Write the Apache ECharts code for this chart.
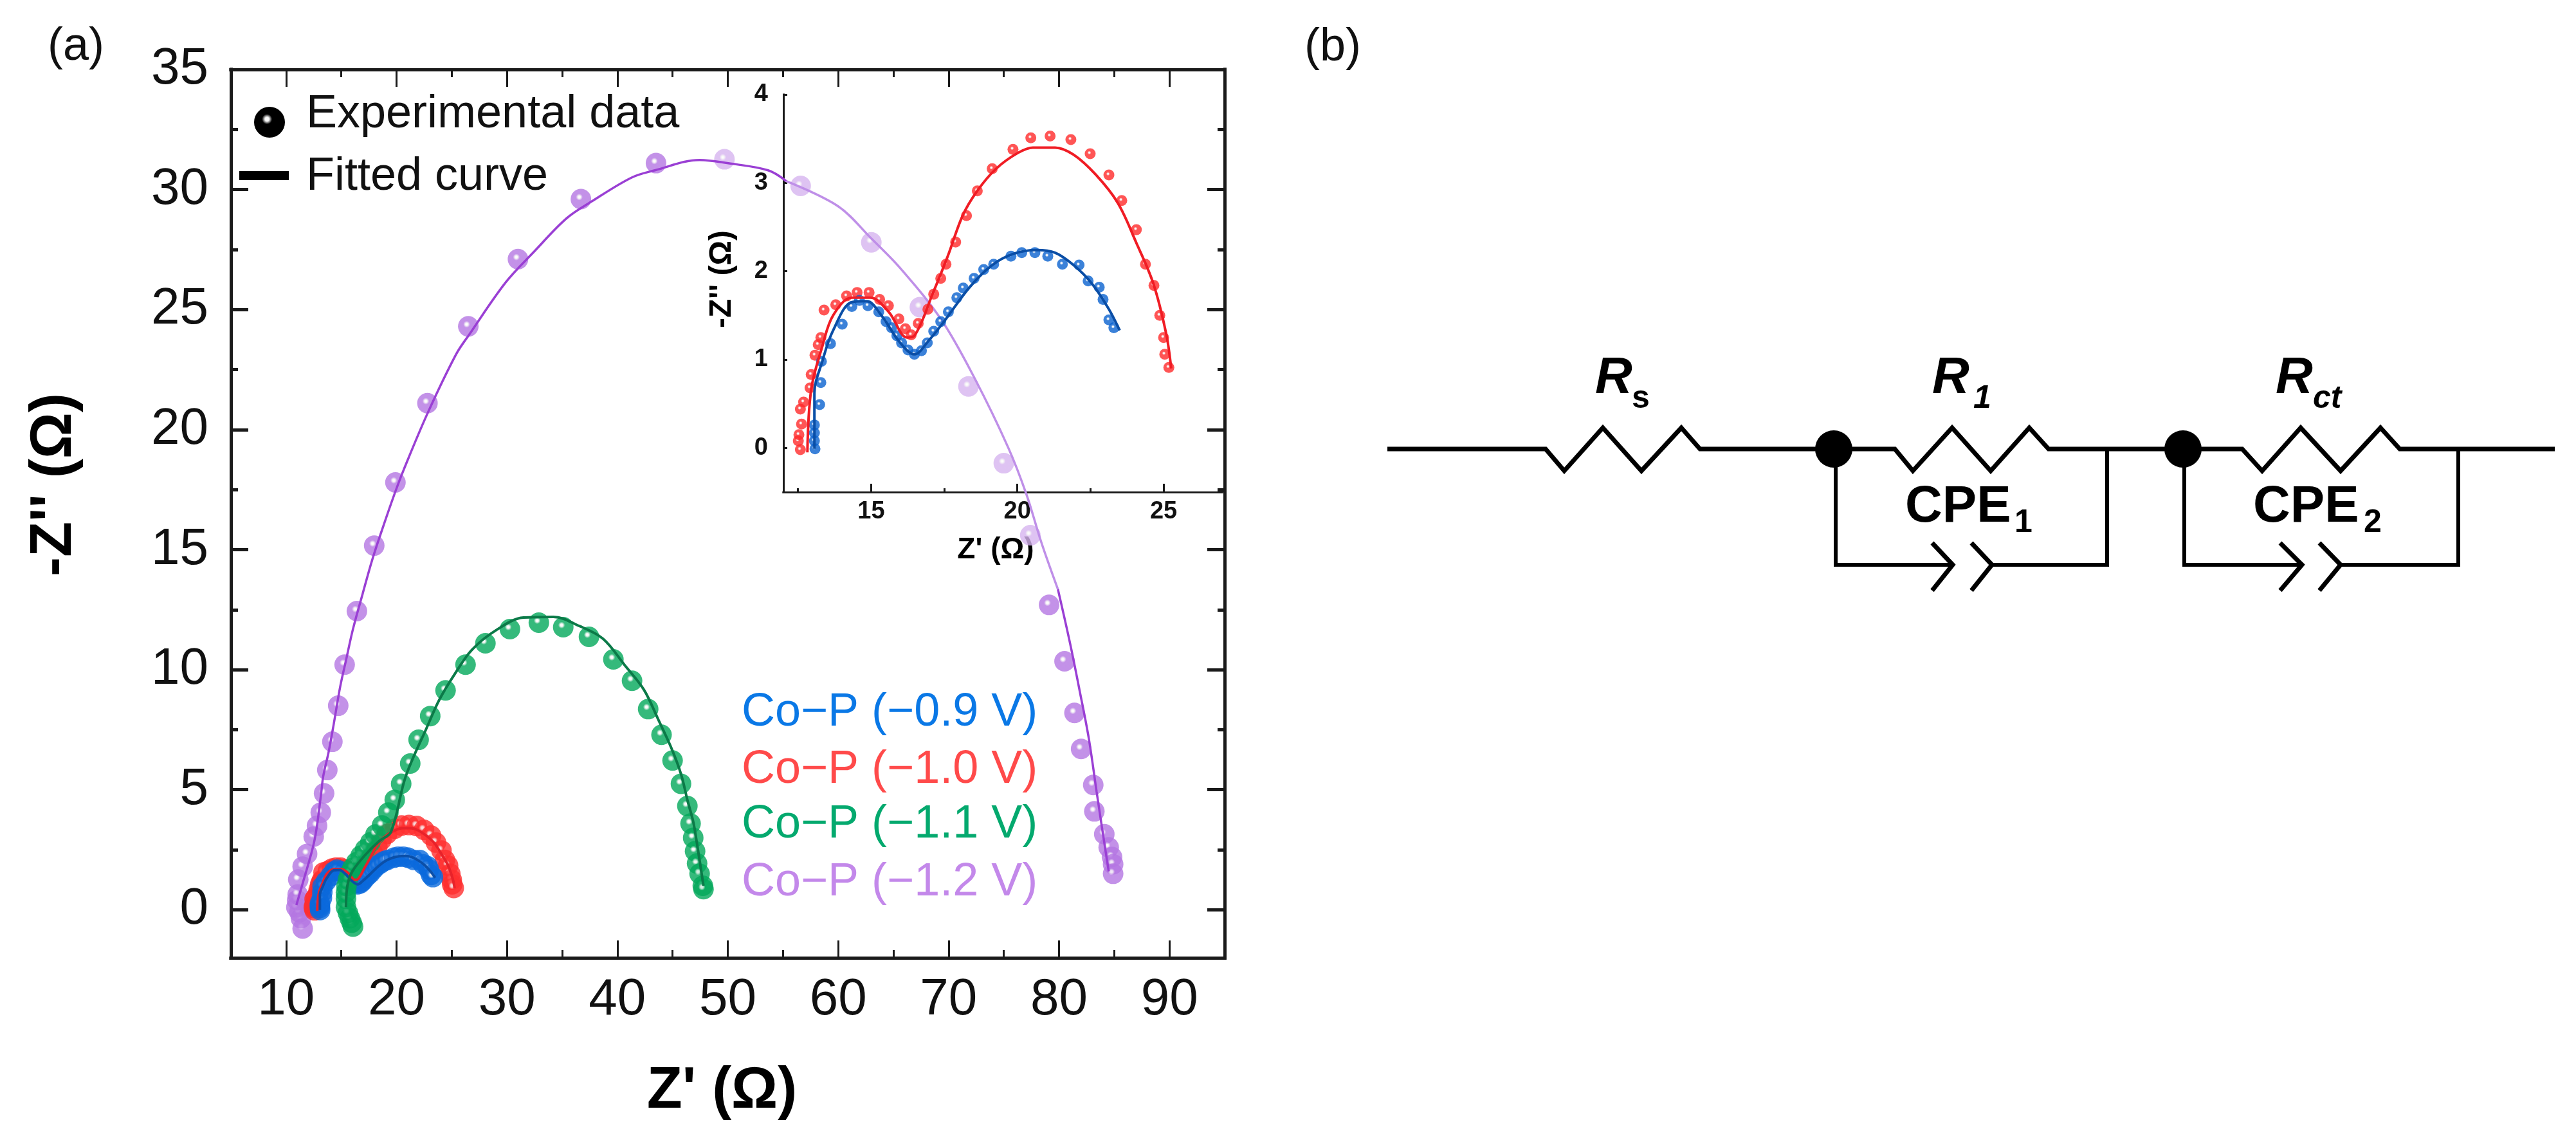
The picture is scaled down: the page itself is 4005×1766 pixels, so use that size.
<!DOCTYPE html>
<html>
<head>
<meta charset="utf-8">
<style>html,body{margin:0;padding:0;background:#fff}#chart{width:4005px;height:1766px}</style>
<script src="https://cdn.jsdelivr.net/npm/echarts@6/dist/echarts.min.js"></script>
</head>
<body>
<div id="chart"></div>
<script>
// ---- data: [Z', -Z''] ----
const expBlue = [[13.08,-0.01],[13.06,0.08],[13.06,0.17],[13.06,0.26],[13.24,0.49],[13.28,0.74],[13.3,0.98],[13.61,1.18],[14.01,1.4],[14.34,1.6],[14.6,1.67],[14.89,1.61],[15.26,1.54],[15.51,1.43],[15.7,1.36],[15.88,1.27],[16.04,1.19],[16.26,1.11],[16.48,1.06],[16.72,1.1],[16.92,1.19],[17.14,1.32],[17.38,1.43],[17.64,1.54],[17.93,1.7],[18.15,1.81],[18.52,1.92],[18.85,2.02],[19.19,2.08],[19.78,2.17],[20.15,2.21],[20.6,2.21],[21.04,2.17],[21.54,2.08],[22.11,2.07],[22.42,1.89],[22.8,1.82],[22.93,1.68],[23.13,1.45],[23.3,1.36]];
const expRed = [[12.58,-0.02],[12.51,0.08],[12.53,0.15],[12.62,0.27],[12.58,0.44],[12.69,0.52],[12.91,0.68],[12.95,0.83],[13.08,1.05],[13.19,1.17],[13.28,1.25],[13.39,1.56],[13.79,1.62],[14.16,1.72],[14.52,1.76],[14.93,1.76],[15.29,1.68],[15.59,1.61],[15.95,1.46],[16.17,1.35],[16.37,1.28],[16.61,1.41],[16.94,1.57],[17.14,1.74],[17.38,1.92],[17.56,2.08],[17.89,2.33],[18.26,2.63],[18.63,2.91],[19.14,3.16],[19.85,3.38],[20.46,3.51],[21.12,3.53],[21.83,3.49],[22.49,3.33],[23.13,3.09],[23.57,2.8],[24.07,2.47],[24.38,2.08],[24.67,1.84],[24.87,1.5],[25.0,1.25],[25.04,1.06],[25.18,0.91]];
const expGreen = [[16.06,-0.7],[15.94,-0.54],[15.77,-0.35],[15.6,-0.13],[15.42,0.11],[15.42,0.46],[15.42,0.72],[15.47,0.99],[15.6,1.26],[15.77,1.53],[16.0,1.74],[16.35,1.98],[16.75,2.25],[17.16,2.52],[17.63,2.81],[18.1,3.14],[18.68,3.51],[19.26,4.05],[19.84,4.58],[20.42,5.25],[21.24,6.09],[22.0,7.08],[23.05,8.07],[24.44,9.14],[26.25,10.21],[28.05,11.1],[30.27,11.69],[32.89,11.96],[35.1,11.77],[37.43,11.37],[39.64,10.43],[41.33,9.54],[42.79,8.36],[44.0,7.29],[45.0,6.22],[45.76,5.25],[46.34,4.32],[46.63,3.59],[46.87,3.0],[47.04,2.44],[47.22,1.93],[47.45,1.5],[47.74,1.0],[47.8,0.86]];
const expPurple = [[11.5,-0.78],[11.34,-0.35],[11.2,-0.1],[10.93,0.1],[11.0,0.4],[11.05,0.64],[11.1,1.26],[11.5,1.8],[11.9,2.33],[12.5,3.05],[12.8,3.5],[13.14,4.05],[13.44,4.85],[13.73,5.82],[14.19,7.0],[14.72,8.5],[15.3,10.21],[16.41,12.44],[17.98,15.17],[19.9,17.8],[22.8,21.1],[26.5,24.3],[31.0,27.1],[36.7,29.6],[43.5,31.1],[49.7,31.26],[56.6,30.15],[63.0,27.8],[67.4,25.1],[71.8,21.8],[75.0,18.6],[77.4,15.6],[79.1,12.7],[80.5,10.35],[81.4,8.2],[82.0,6.7],[83.1,5.2],[83.2,4.1],[84.1,3.15],[84.5,2.6],[84.8,2.2],[84.9,1.9],[84.9,1.5]];
const fitBlue = [[13.06,-0.01],[13.06,0.62],[13.33,0.98],[13.7,1.33],[14.34,1.65],[14.85,1.66],[15.35,1.5],[15.97,1.2],[16.48,1.06],[16.98,1.22],[17.49,1.43],[18.37,1.82],[19.14,2.07],[19.89,2.2],[20.66,2.24],[21.29,2.21],[21.92,2.07],[22.55,1.86],[23.13,1.57],[23.5,1.33]];
const fitRed = [[12.82,-0.05],[12.95,0.66],[13.33,1.15],[13.7,1.5],[14.34,1.7],[14.97,1.7],[15.6,1.54],[16.23,1.25],[16.48,1.27],[17.11,1.75],[17.62,2.17],[18.13,2.63],[18.63,2.91],[19.27,3.16],[20.02,3.34],[20.53,3.4],[21.29,3.4],[21.92,3.32],[22.69,3.09],[23.44,2.77],[24.07,2.32],[24.65,1.86],[25.09,1.29],[25.26,0.9]];
const fitGreen = [[15.42,0.11],[15.55,1.0],[16.0,1.6],[17.2,2.3],[18.4,2.85],[19.49,3.24],[20.83,5.55],[22.75,7.6],[23.9,8.77],[25.3,9.84],[26.83,10.83],[29.0,11.64],[31.5,12.17],[34.2,12.2],[36.56,11.82],[38.7,11.29],[40.65,10.2],[42.4,9.17],[43.7,7.93],[44.9,6.73],[45.76,5.66],[46.34,4.58],[46.87,3.67],[47.2,2.79],[47.8,1.0]];
const fitPurpleLow = [[10.93,0.2],[11.5,1.1],[12.56,2.87],[13.15,4.75],[13.36,5.56],[13.84,6.55],[14.3,7.7],[14.9,9.3],[15.42,10.38],[16.06,11.7],[16.93,13.16],[17.8,14.58],[18.7,15.84],[19.84,17.35],[20.66,18.34],[22.8,20.67],[25.4,23.14],[26.6,23.97],[29.9,26.14],[32.37,27.37],[35.4,28.8],[37.66,29.5],[41.3,30.5],[43.4,30.8],[47.45,31.23],[49.95,31.1],[53.65,30.8],[55.3,30.35]];
const fitPurplePale = [[55.3,30.35],[60.0,29.3],[63.0,27.96],[65.67,26.7],[69.35,24.57],[72.4,22.1],[75.4,19.25],[77.05,17.3],[78.4,15.3],[79.9,13.35]];
const fitPurpleEnd = [[79.9,13.35],[81.0,11.1],[81.9,9.05],[82.7,7.13],[83.4,4.93],[83.9,3.4],[84.5,1.6]];

const mainXMajor = [10,20,30,40,50,60,70,80,90];
const mainXMinor = [15,25,35,45,55,65,75,85];
const mainYMajor = [0,5,10,15,20,25,30,35];
const mainYMinor = [2.5,7.5,12.5,17.5,22.5,27.5,32.5];
const insetXMajor = [15,20,25];
const insetXMinor = [12.5,17.5,22.5,27];
const insetYMajor = [0,1,2,3,4];

const seriesNames = ['Co\u2212P (\u22120.9 V)','Co\u2212P (\u22121.0 V)','Co\u2212P (\u22121.1 V)','Co\u2212P (\u22121.2 V)'];
const seriesTextColors = ['#0a78e6','#ff4a4a','#04a96e','#c388ea'];
const legendNames = ['Experimental data','Fitted curve'];

// ---- styles ----
const FONT = '"Liberation Sans", Arial, sans-serif';
const MAIN = {left:359, top:108, right:4005-1904, bottom:1766-1489};
const INSET = {left:1218, top:147, right:4005-1900, bottom:1766-765};
const C = {blue:'#0a69dc', red:'#ff2e2e', green:'#02a85a', purple:'#b476e2', pale:'#d6b4ef'};

function ball(color){
  return new echarts.graphic.RadialGradient(0.42,0.4,0.5,[
    {offset:0,color:'#ffffff'},{offset:0.13,color:'#f4f4f4'},{offset:0.33,color:color},{offset:1,color:color}]);
}
function expSeries(name,data,color,size,xi,yi,z){
  return {name,type:'scatter',data,xAxisIndex:xi,yAxisIndex:yi,symbol:'circle',symbolSize:size,clip:false,z,
    itemStyle:{color:ball(color)},silent:true};
}
function fitSeries(name,data,color,width,xi,yi,z){
  return {name,type:'line',data,xAxisIndex:xi,yAxisIndex:yi,symbol:'none',smooth:0.35,clip:false,z,
    lineStyle:{color,width},silent:true};
}
function axisBase(pos,grid,min,max,ticks,len,tickW,lineW,labels,extra){
  return Object.assign({type:'value',position:pos,gridIndex:grid,min,max,splitLine:{show:false},
    axisLine:{show:true,onZero:false,lineStyle:{color:'#1a1a1a',width:lineW,cap:'square'}},
    axisTick:{show:true,inside:true,length:len,customValues:ticks,lineStyle:{color:'#1a1a1a',width:tickW}},
    axisLabel:labels||{show:false}},extra||{});
}
const mainLabelX = {show:true,customValues:mainXMajor,fontSize:80,fontFamily:FONT,color:'#111',margin:26};
const mainLabelY = {show:true,customValues:mainYMajor,fontSize:80,fontFamily:FONT,color:'#111',margin:35};
const insetLabelX = {show:true,customValues:insetXMajor,fontSize:38,fontWeight:'bold',fontFamily:FONT,color:'#111',margin:12};
const insetLabelY = {show:true,customValues:insetYMajor,fontSize:38,fontWeight:'bold',fontFamily:FONT,color:'#111',margin:24};
const nameStyle = (size,pad)=>({fontSize:size,fontWeight:'bold',fontFamily:FONT,color:'#000',padding:pad});

const xAxis = [
  axisBase('bottom',0,5,95,mainXMajor,27,3,5,mainLabelX,{name:"Z' (\u03A9)",nameLocation:'middle',nameGap:163,nameTextStyle:nameStyle(90,[0,18,0,0])}),
  axisBase('top',0,5,95,mainXMajor,27,3,5),
  axisBase('bottom',1,5,95,mainXMinor,12,3,5),
  axisBase('top',1,5,95,mainXMinor,12,3,5),
  axisBase('bottom',2,12,27,insetXMajor,13,3,3,insetLabelX,{name:"Z' (\u03A9)",nameLocation:'middle',nameGap:67,nameTextStyle:nameStyle(46,[0,22,0,0])}),
  axisBase('bottom',3,12,27,insetXMinor,6,3,3)
];
const yAxis = [
  axisBase('left',0,-2,35,mainYMajor,27,5,5,mainLabelY,{name:"-Z'' (\u03A9)",nameLocation:'middle',nameGap:229,nameRotate:90,nameTextStyle:nameStyle(90,[0,0,0,90])}),
  axisBase('right',0,-2,35,mainYMajor,27,5,5),
  axisBase('left',1,-2,35,mainYMinor,11,5,5),
  axisBase('right',1,-2,35,mainYMinor,11,5,5),
  axisBase('left',2,-0.5,4,insetYMajor,6,3,3,insetLabelY,{name:"-Z'' (\u03A9)",nameLocation:'middle',nameGap:71,nameRotate:90,nameTextStyle:nameStyle(48,[0,0,0,44])}),
  axisBase('left',3,-0.5,4,[],0,3,3,null,{axisTick:{show:false},axisLine:{show:false}})
];

const isPale = p => p[0] > 48 && p[0] < 78;
const series = [
  expSeries('purple exp',expPurple.filter(p=>!isPale(p)),C.purple,32,0,0,3),
  expSeries('purple exp inset zone',expPurple.filter(isPale),C.pale,32,0,0,3),
  expSeries('red exp',expRed,C.red,32,0,0,4),
  expSeries('blue exp',expBlue,C.blue,32,0,0,5),
  expSeries('green exp',expGreen,C.green,32,0,0,6),
  fitSeries('purple fit',fitPurpleLow,'#9a3fd4',3.5,0,0,7),
  fitSeries('purple fit inset zone',fitPurplePale,'#bf8fe8',3.5,0,0,7),
  fitSeries('purple fit end',fitPurpleEnd,'#9a3fd4',3.5,0,0,7),
  fitSeries('red fit',fitRed,'#e8222a',4,0,0,7),
  fitSeries('blue fit',fitBlue,'#0b4fa8',4,0,0,7),
  fitSeries('green fit',fitGreen,'#0b7a48',4,0,0,8),
  expSeries('red exp inset',expRed,'#ff2a2a',17,4,4,9),
  expSeries('blue exp inset',expBlue,'#0a62cf',17,4,4,10),
  fitSeries('red fit inset',fitRed,'#f01c24',4,4,4,11),
  fitSeries('blue fit inset',fitBlue,'#0a4ea6',4,4,4,11)
];

// ---- texts and schematic ----
function txt(text,x,y,size,opt){
  opt = opt||{};
  return {type:'text',x,y,z:50,silent:true,style:{text,fontSize:size,fontFamily:FONT,fontWeight:opt.weight||'normal',
    fontStyle:opt.style||'normal',fill:opt.fill||'#111',textAlign:opt.align||'left',verticalAlign:'middle',textVerticalAlign:'middle'}};
}
function wire(points,w){
  return {type:'polyline',z:40,silent:true,shape:{points},style:{stroke:'#000',lineWidth:w||7,fill:null,lineJoin:'miter'}};
}
const graphic = [
  txt('(a)',74,73,72), txt('(b)',2028,74,72),
  txt(legendNames[0],476,178,72), txt(legendNames[1],476,275,72),
  {type:'circle',z:40,silent:true,shape:{cx:419,cy:190,r:24},style:{fill:ball('#000')}},
  {type:'rect',z:40,silent:true,shape:{x:372,y:266,width:77,height:14},style:{fill:'#000'}},
  txt(seriesNames[0],1153,1108,72,{fill:seriesTextColors[0]}),
  txt(seriesNames[1],1153,1197,72,{fill:seriesTextColors[1]}),
  txt(seriesNames[2],1153,1282,72,{fill:seriesTextColors[2]}),
  txt(seriesNames[3],1153,1372,72,{fill:seriesTextColors[3]}),
  // panel (b)
  wire([[2157,698],[2403,698],[2432,732],[2492,665],[2552,732],[2614,665],[2643,698],[2946,698],[2974,732],[3035,665],[3095,732],[3155,665],[3185,698],[3486,698],[3517,732],[3577,665],[3639,732],[3701,665],[3731,698],[3972,698]]),
  wire([[2854,698],[2854,878],[3036,878]],6), wire([[3097,878],[3276,878],[3276,698]],6),
  wire([[3396,698],[3396,878],[3579,878]],6), wire([[3639,878],[3822,878],[3822,698]],6),
  wire([[3004,844],[3036,878],[3004,918]],7), wire([[3065,844],[3097,878],[3065,918]],7),
  wire([[3545,844],[3579,878],[3545,918]],7), wire([[3606,844],[3639,878],[3606,918]],7),
  {type:'circle',z:41,silent:true,shape:{cx:2851,cy:698,r:29},style:{fill:'#000'}},
  {type:'circle',z:41,silent:true,shape:{cx:3394,cy:698,r:29},style:{fill:'#000'}},
  txt('R',2480,589,80,{weight:'bold',style:'italic',fill:'#000'}), txt('s',2537,620,50,{weight:'bold',fill:'#000'}),
  txt('R',3004,589,80,{weight:'bold',style:'italic',fill:'#000'}), txt('1',3068,620,50,{weight:'bold',style:'italic',fill:'#000'}),
  txt('R',3538,589,80,{weight:'bold',style:'italic',fill:'#000'}), txt('ct',3596,620,50,{weight:'bold',style:'italic',fill:'#000'}),
  txt('CPE',2962,789,80,{weight:'bold',fill:'#000'}), txt('1',3132,813,50,{weight:'bold',fill:'#000'}),
  txt('CPE',3503,789,80,{weight:'bold',fill:'#000'}), txt('2',3675,813,50,{weight:'bold',fill:'#000'})
];

const chart = echarts.init(document.getElementById('chart'),null,{renderer:'canvas'});
chart.setOption({
  animation:false,
  backgroundColor:'#ffffff',
  grid:[Object.assign({},MAIN),Object.assign({},MAIN),Object.assign({},INSET),Object.assign({},INSET)],
  xAxis,yAxis,series,graphic
});
</script>
</body>
</html>
